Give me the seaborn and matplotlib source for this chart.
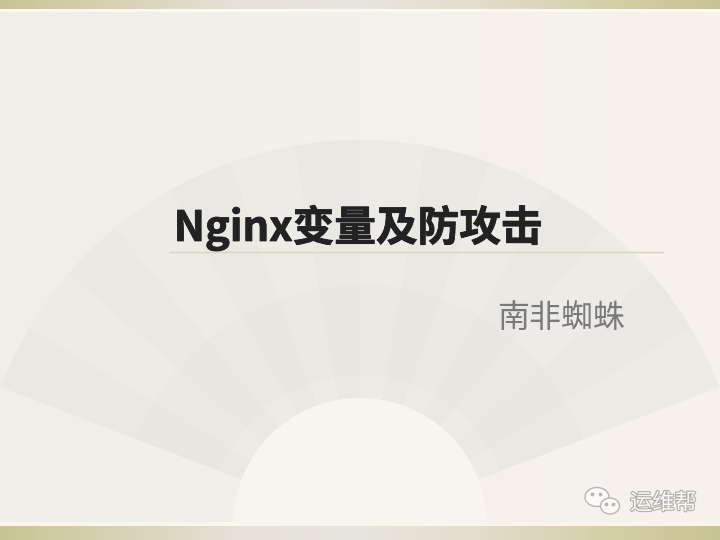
import numpy as np
import matplotlib
matplotlib.use("Agg")
import matplotlib.pyplot as plt
import matplotlib.patheffects as pe
from matplotlib.patches import Wedge, Ellipse
from matplotlib.colors import LinearSegmentedColormap
import seaborn as sns

# slide texts
title = "Nginx变量及防攻击"
subtitle = "南非蜘蛛"
watermark = "运维帮"

# fan geometry (pixels, origin top-left)
fan_center = (360, 525)
fan_r_out = 385
fan_r_in = 127
fan_folds = 14

sns.set_theme(style="white")
plt.rcParams['font.family'] = ['Noto Sans CJK SC', 'DejaVu Sans']

fig = plt.figure(figsize=(7.2, 5.4), dpi=100)
ax = fig.add_axes([0, 0, 1, 1])
ax.set_xlim(0, 720)
ax.set_ylim(540, 0)
ax.axis("off")

# background: soft grey on the left to warm cream on the right
bg = LinearSegmentedColormap.from_list("bg", ["#efeee8", "#f4f1ea", "#f7f3ec"])
ax.imshow(np.linspace(0, 1, 256)[None, :], cmap=bg, aspect="auto",
          extent=(0, 720, 540, 0), zorder=0)

# gold bands at top and bottom
band = LinearSegmentedColormap.from_list(
    "band", ["#c9c493", "#d8d3b4", "#e6e2da", "#e8e5de", "#e2ddcc", "#d6d0a8", "#c9c493"])
grad = np.linspace(0, 1, 256)[None, :]
ax.imshow(grad, cmap=band, aspect="auto", extent=(0, 720, 9, 0), zorder=1)
ax.axhspan(9, 12, color="#fbf9ef", zorder=1, lw=0)
ax.imshow(grad, cmap=band, aspect="auto", extent=(0, 720, 540, 526), zorder=1)
ax.axhspan(522, 526, color="#f7f5ec", zorder=1, lw=0)

# fan: folds of slightly different shade
angles = np.linspace(201, 339, fan_folds + 1)
shades = sns.blend_palette(["#eae8e2", "#edebe5"], 2)
for i in range(fan_folds):
    ax.add_patch(Wedge(fan_center, fan_r_out, angles[i], angles[i + 1],
                       width=fan_r_out - fan_r_in, facecolor=shades[i % 2],
                       edgecolor="none", zorder=2))
# slightly greyer lower part of the painting
ax.add_patch(Wedge(fan_center, 240, 201, 339, width=90,
                   facecolor="#e3e1dc", edgecolor="none", alpha=0.25, zorder=3))
ax.add_patch(Wedge(fan_center, fan_r_in, 180, 360,
                   facecolor="#f8f5ee", edgecolor="none", zorder=3))

# title (thin stroke makes it a bit heavier) and rule
ax.text(358, 228, title, fontsize=30, fontweight="bold", color="#222222",
        ha="center", va="center", zorder=5,
        path_effects=[pe.withStroke(linewidth=0.6, foreground="#222222")])
ax.plot([170, 663], [252, 252], color="#d9d3c2", lw=1.0, zorder=5)

# subtitle
ax.text(625, 318, subtitle, fontsize=23, color="#7a7a7a",
        ha="right", va="center", zorder=5)

# watermark with wechat style icon
for (cx, cy, w, h) in [(597, 497, 24, 19), (610, 506, 19, 16)]:
    ax.add_patch(Ellipse((cx, cy), w, h, facecolor="#fbfaf7",
                         edgecolor="#b8b6b0", lw=1.0, zorder=6))
ax.scatter([592, 600, 606, 613], [494, 494, 504, 504], s=3,
           color="#b8b6b0", zorder=7)
ax.text(630, 503, watermark, fontsize=16, color="#fbfaf7", ha="left",
        va="center", zorder=7,
        path_effects=[pe.withStroke(linewidth=1.6, foreground="#b0aea8")])

fig.savefig("out.png", dpi=100)
